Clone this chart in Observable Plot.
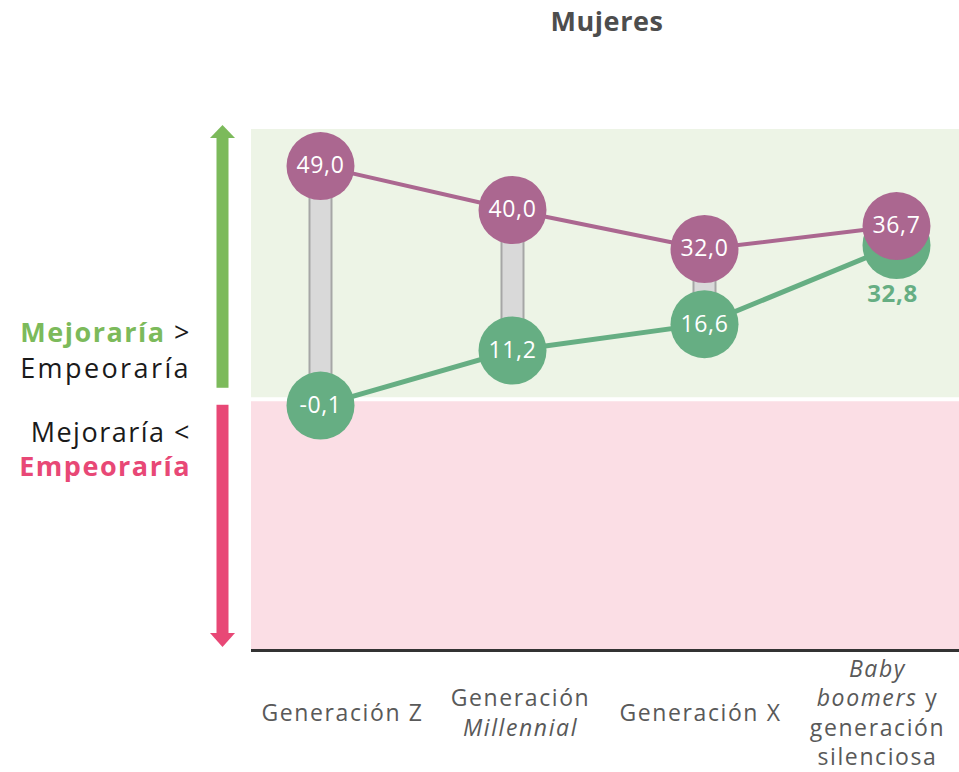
<!DOCTYPE html>
<html><head><meta charset="utf-8">
<script src="https://cdn.jsdelivr.net/npm/d3@7"></script>
<script src="https://cdn.jsdelivr.net/npm/@observablehq/plot@0.6"></script>
<style>
body{margin:0;background:#fff;font-family:"Open Sans",sans-serif;}
#wrap{position:relative;width:959px;height:772px;overflow:hidden;background:#fff}
.ov{position:absolute;left:0;top:0;pointer-events:none}
.title{position:absolute;left:251px;width:712px;top:2px;text-align:center;font-weight:700;font-size:27px;letter-spacing:0.6px;color:#4d4d4d}
.side{position:absolute;left:0;width:191px;text-align:right;font-size:27px;letter-spacing:1.5px;color:#1a1a1a}
</style></head><body>
<div id="wrap"></div>
<script>
// ---- data ----
const generations = ["Generación Z", "Generación Millennial", "Generación X", "Baby boomers y generación silenciosa"];
const tickLabels = ["Generación Z", "Generación\n_Millennial_", "Generación X", "_Baby_\n_boomers_ y\ngeneración\nsilenciosa"];
const purpleSeries = [49.0, 40.0, 32.0, 36.7];
const greenSeries = [-0.1, 11.2, 16.6, 32.8];
const yMin = -50.3, yMax = 56.5;   // axis extent
const bandEdge = 1.2;              // where green and pink zones meet

// ---- styles ----
const W = 959, H = 772, mT = 129, mB = 122, mL = 251, mR = 0;
const PURPLE = "#ab6790", GREEN = "#66ae83", ARROW_G = "#7cba5b", ARROW_P = "#e84876";
const TICK = "#595959";
const fmt = v => v.toFixed(1).replace(".", ",");

const rows = generations.map((g, i) => ({gen: g, label: tickLabels[i], purple: purpleSeries[i], green: greenSeries[i]}));
const overlap = d => Math.abs(d.purple - d.green) < 10;
const labelShift = [22, 8, -4, -19];

const chart = Plot.plot({
  width: W, height: H, marginTop: mT, marginBottom: mB, marginLeft: mL, marginRight: mR,
  x: {type: "point", domain: generations, range: [319, 896], padding: 0, axis: null},
  y: {domain: [yMin, yMax], axis: null},
  style: {fontFamily: "Open Sans", background: "white"},
  marks: [
    Plot.rect([{a: bandEdge, b: yMax}], {y1: "a", y2: "b", fill: "#edf4e6"}),
    Plot.rect([{a: yMin, b: bandEdge}], {y1: "a", y2: "b", fill: "#fbdee5"}),
    Plot.ruleY([bandEdge], {stroke: "white", strokeWidth: 4}),
    Plot.ruleY([yMin], {stroke: "#333", strokeWidth: 3}),
    Plot.ruleX(rows, {x: "gen", y1: "green", y2: "purple", stroke: "#a6a6a6", strokeWidth: 24}),
    Plot.ruleX(rows, {x: "gen", y1: "green", y2: "purple", stroke: "#d9d9d9", strokeWidth: 20}),
    Plot.line(rows, {x: "gen", y: "purple", stroke: PURPLE, strokeWidth: 4}),
    Plot.line(rows, {x: "gen", y: "green", stroke: GREEN, strokeWidth: 5}),
    Plot.dot(rows, {x: "gen", y: "green", r: 34, fill: GREEN}),
    Plot.dot(rows, {x: "gen", y: "purple", r: 34, fill: PURPLE}),
    Plot.text(rows.filter(d => !overlap(d)), {x: "gen", y: "green", text: d => fmt(d.green), fill: "white", fontSize: 23}),
    Plot.text(rows.filter(overlap), {x: "gen", y: "green", text: d => fmt(d.green), fill: GREEN, fontSize: 24, fontWeight: "bold", dy: 49, dx: -4}),
    Plot.text(rows, {x: "gen", y: "purple", text: d => fmt(d.purple), fill: "white", fontSize: 23}),
    ...rows.map((r, i) => Plot.text([r], {
      x: "gen", text: "label", frameAnchor: "bottom", dy: 61, dx: labelShift[i],
      lineAnchor: "middle", lineHeight: 1.28, fontSize: 23, fill: TICK
    }))
  ]
});

// letter spacing + italic markers
chart.querySelectorAll("text").forEach(t => {
  const g = t.closest("g[fill]");
  const isTick = g && g.getAttribute("fill") === TICK;
  t.setAttribute("letter-spacing", isTick ? "1.6" : "0.6");
  const tspans = t.querySelectorAll("tspan");
  const targets = tspans.length ? Array.from(tspans) : [t];
  targets.forEach(el => {
    const s = el.textContent;
    if (!s.includes("_")) return;
    el.textContent = "";
    s.split("_").forEach((part, i) => {
      if (!part) return;
      const ts = document.createElementNS("http://www.w3.org/2000/svg", "tspan");
      if (i % 2 === 1) ts.setAttribute("font-style", "italic");
      ts.textContent = part;
      el.appendChild(ts);
    });
  });
});

const wrap = document.getElementById("wrap");
wrap.appendChild(chart);

// overlay: arrows, title, side labels
const ys = d3.scaleLinear([yMin, yMax], [H - mB, mT]);
const ov = d3.select(wrap).append("svg").attr("class", "ov").attr("width", W).attr("height", H);
const ax = 222.5;
const gTop = mT - 4, gBot = ys(bandEdge) - 11;
const pTop = ys(bandEdge) + 6, pBot = H - mB - 3;
ov.append("rect").attr("x", ax - 6).attr("width", 12).attr("y", gTop + 12).attr("height", gBot - gTop - 12).attr("fill", ARROW_G);
ov.append("polygon").attr("points", `${ax - 12.5},${gTop + 13} ${ax + 12.5},${gTop + 13} ${ax},${gTop}`).attr("fill", ARROW_G);
ov.append("rect").attr("x", ax - 6).attr("width", 12).attr("y", pTop).attr("height", pBot - 13 - pTop).attr("fill", ARROW_P);
ov.append("polygon").attr("points", `${ax - 12.5},${pBot - 14} ${ax + 12.5},${pBot - 14} ${ax},${pBot}`).attr("fill", ARROW_P);

const title = document.createElement("div");
title.className = "title"; title.textContent = "Mujeres";
wrap.appendChild(title);

const s1 = document.createElement("div");
s1.className = "side"; s1.style.top = "314px"; s1.style.lineHeight = "36px";
s1.innerHTML = `<span style="color:${ARROW_G};font-weight:700">Mejoraría</span> &gt;<br><span style="letter-spacing:2.4px">Empeoraría</span>`;
wrap.appendChild(s1);
const s2 = document.createElement("div");
s2.className = "side"; s2.style.top = "415px"; s2.style.lineHeight = "34px";
s2.innerHTML = `Mejoraría &lt;<br><span style="color:${ARROW_P};font-weight:700">Empeoraría</span>`;
wrap.appendChild(s2);
</script>
</body></html>
